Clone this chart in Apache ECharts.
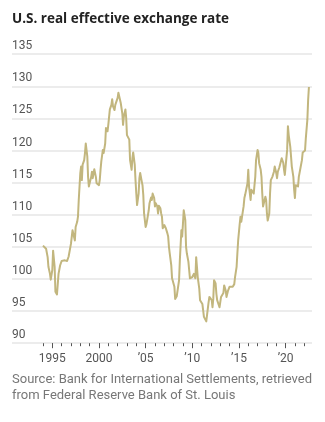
<!DOCTYPE html>
<html>
<head>
<meta charset="utf-8">
<script src="https://cdn.jsdelivr.net/npm/echarts@6/dist/echarts.min.js"></script>
<style>
  html, body { margin: 0; padding: 0; background: #ffffff; }
  #chart { width: 325px; height: 422px; }
</style>
</head>
<body>
<div id="chart"></div>
<script>
// U.S. real effective exchange rate, monthly readings (index)
const months = [
  '1994-01','1994-03','1994-05','1994-07','1994-08','1994-10','1994-11',
  '1995-01','1995-02','1995-04','1995-05','1995-07','1995-08','1995-09','1995-11',
  '1996-01','1996-03','1996-05','1996-07','1996-08','1996-10','1996-12',
  '1997-01','1997-03','1997-04','1997-06','1997-07','1997-09','1997-10','1997-11',
  '1998-01','1998-02','1998-03','1998-04','1998-06','1998-07','1998-08','1998-10','1998-11','1998-12',
  '1999-01','1999-03','1999-04','1999-05','1999-07','1999-09','1999-10',
  '2000-01','2000-02','2000-03','2000-04','2000-06','2000-07','2000-09','2000-10','2000-12',
  '2001-01','2001-03','2001-05','2001-06','2001-07','2001-09','2001-10','2001-12',
  '2002-01','2002-02','2002-04','2002-05','2002-07','2002-08','2002-09','2002-11','2002-12',
  '2003-01','2003-03','2003-04','2003-05','2003-07','2003-08','2003-09','2003-11','2003-12',
  '2004-01','2004-02','2004-04','2004-05','2004-06','2004-08','2004-09','2004-10','2004-11',
  '2005-01','2005-02','2005-03','2005-05','2005-06','2005-08','2005-09','2005-10','2005-12',
  '2006-01','2006-02','2006-04','2006-05','2006-06','2006-08','2006-09','2006-10','2006-11',
  '2007-01','2007-02','2007-03','2007-05','2007-06','2007-07','2007-08','2007-10','2007-11','2007-12',
  '2008-02','2008-03','2008-04','2008-05','2008-07','2008-08','2008-09','2008-11','2008-12',
  '2009-01','2009-02','2009-04','2009-05','2009-06','2009-08','2009-09','2009-10','2009-11',
  '2010-01','2010-02','2010-03','2010-05','2010-06','2010-07','2010-08','2010-10','2010-11','2010-12',
  '2011-02','2011-03','2011-04','2011-05','2011-07','2011-08','2011-10','2011-11','2011-12',
  '2012-02','2012-03','2012-04','2012-05','2012-07','2012-08','2012-09','2012-11','2012-12',
  '2013-01','2013-02','2013-04','2013-05','2013-06','2013-08','2013-09','2013-10','2013-11',
  '2014-01','2014-02','2014-03','2014-05','2014-06','2014-07','2014-08','2014-10','2014-11','2014-12',
  '2015-02','2015-03','2015-04','2015-05','2015-07','2015-08','2015-09','2015-11','2015-12',
  '2016-01','2016-02','2016-04','2016-05','2016-06','2016-08','2016-09','2016-10','2016-11',
  '2017-01','2017-02','2017-03','2017-05','2017-06','2017-07','2017-08','2017-11','2017-12',
  '2018-01','2018-02','2018-04','2018-05','2018-06','2018-08','2018-09','2018-10','2018-11',
  '2019-01','2019-02','2019-03','2019-05','2019-06','2019-07','2019-08','2019-10','2019-11','2019-12',
  '2020-02','2020-03','2020-04','2020-05','2020-07','2020-08','2020-09','2020-11','2020-12',
  '2021-01','2021-02','2021-04','2021-05','2021-06','2021-08','2021-09','2021-10','2021-11',
  '2022-01','2022-02','2022-03','2022-05','2022-06','2022-07'
];

const rate = [
  105.2,105.0,104.7,103.4,101.9,100.8,99.9,
  101.4,104.4,101.9,98.0,97.6,97.7,100.8,102.1,
  102.8,103.0,102.9,103.2,102.8,103.5,103.3,
  105.5,107.6,107.3,106.0,108.1,108.9,109.7,112.3,
  116.5,117.5,115.4,117.8,118.5,119.6,121.1,119.1,115.9,114.4,
  114.4,115.9,116.7,115.7,117.1,115.9,114.9,
  114.6,115.4,117.0,118.3,120.1,119.6,121.1,123.5,123.0,
  124.0,126.4,127.1,128.0,126.9,126.3,127.1,127.4,
  128.2,129.0,128.7,127.4,125.8,124.0,125.3,126.4,125.1,
  122.4,122.4,121.7,118.5,117.0,118.8,119.7,117.8,115.4,
  113.3,111.5,113.3,115.7,116.5,115.2,114.6,113.1,110.2,
  108.1,108.5,109.2,110.7,111.8,112.7,112.3,113.3,112.6,
  111.3,111.8,111.3,110.2,111.4,111.0,110.2,109.7,107.9,
  108.4,108.4,107.9,107.1,106.6,105.0,104.0,102.1,100.1,99.9,
  98.8,96.9,96.7,97.3,97.4,99.8,102.9,107.6,106.6,
  108.6,110.7,109.2,105.0,104.0,102.7,101.4,100.1,99.9,
  100.3,100.1,100.8,100.1,103.4,101.9,100.3,98.5,96.7,96.8,
  96.1,95.1,94.1,93.8,93.4,93.4,96.4,97.2,97.3,
  96.7,95.6,96.9,99.8,99.3,97.7,96.7,96.4,95.6,
  96.4,97.2,97.2,97.8,99.0,98.2,97.2,97.4,98.2,
  98.8,98.9,98.9,98.8,98.9,99.2,100.3,101.9,104.0,106.0,
  108.6,109.7,108.9,109.7,111.3,112.6,113.1,112.8,114.9,
  117.0,114.4,112.3,113.9,114.1,113.3,114.6,115.9,118.5,
  120.1,119.6,118.0,117.0,115.9,113.3,111.3,112.8,112.3,
  110.2,109.1,110.2,113.3,115.4,115.9,116.2,116.7,117.5,
  116.5,115.7,116.7,117.4,117.6,117.1,118.8,118.1,117.0,116.2,
  116.2,120.1,123.8,122.4,120.6,119.1,117.5,115.9,113.9,
  112.6,114.6,114.9,114.4,115.9,117.2,117.4,118.5,119.7,
  120.0,120.0,121.9,124.8,127.9,129.9
];

const yTicks = [90, 95, 100, 105, 110, 115, 120, 125, 130, 135];
const yearTicks = [1994,1995,1996,1997,1998,1999,2000,2001,2002,2003,2004,2005,2006,2007,
  2008,2009,2010,2011,2012,2013,2014,2015,2016,2017,2018,2019,2020,2021,2022];
const labelYears = [1995, 2000, 2005, 2010, 2015, 2020];
const yearLabels = ['1995', '2000', '\u201905', '\u201910', '\u201915', '\u201920'];

const titleText = 'U.S. real effective exchange rate';
const sourceLines = [
  'Source: Bank for International Settlements, retrieved',
  'from Federal Reserve Bank of St. Louis'
];

const FONT = 'Roboto, "Noto Sans", sans-serif';
const TITLE_FONT = '"Open Sans", Roboto, sans-serif';
const LINE_COLOR = '#c2b67e';

function toYear(m) {
  const [y, mo] = m.split('-').map(Number);
  return y + (mo - 1) / 12;
}

const points = months.map((m, i) => [toYear(m), rate[i]]);

const X_MIN = 1990.68, X_MAX = 2022.83;

const chart = echarts.init(document.getElementById('chart'), null, { renderer: 'canvas' });

chart.setOption({
  animation: false,
  backgroundColor: '#ffffff',
  grid: { left: 12, right: 13, top: 54.2, bottom: 78.8, containLabel: false },
  xAxis: [
    {
      type: 'value', min: X_MIN, max: X_MAX,
      axisLine: { show: false },
      splitLine: { show: false },
      axisTick: { show: true, customValues: yearTicks, length: 3, lineStyle: { color: '#555', width: 1 } },
      axisLabel: { show: false }
    },
    {
      type: 'value', min: X_MIN, max: X_MAX, position: 'bottom',
      axisLine: { show: false },
      splitLine: { show: false },
      axisTick: { show: true, customValues: labelYears, length: 5, lineStyle: { color: '#555', width: 1 } },
      axisLabel: {
        show: true, customValues: labelYears, margin: 10,
        color: '#555', fontSize: 12, fontFamily: FONT,
        formatter: v => yearLabels[labelYears.indexOf(Math.round(v))]
      }
    }
  ],
  yAxis: {
    type: 'value', min: yTicks[0], max: yTicks[yTicks.length - 1], interval: 5,
    axisLine: { show: false },
    axisTick: { show: false },
    splitLine: { show: true, lineStyle: { color: '#ececec', width: 2 } },
    axisLabel: {
      inside: true, margin: 0, align: 'left', verticalAlign: 'bottom',
      padding: [0, 0, 2, 0],
      color: '#555', fontSize: 12, fontFamily: FONT
    }
  },
  series: [{
    type: 'line',
    xAxisIndex: 0,
    data: points,
    showSymbol: false,
    lineStyle: { color: LINE_COLOR, width: 2, join: 'round' },
    z: 3
  }],
  graphic: [
    {
      type: 'text', x: 12, y: 19,
      style: {
        text: titleText, fill: '#222', fontSize: 13.5, fontWeight: 'bold',
        fontFamily: TITLE_FONT, verticalAlign: 'middle'
      }
    },
    {
      type: 'text', left: 12, top: 372,
      style: {
        text: sourceLines.join('\n'), fill: '#777', fontSize: 13, lineHeight: 16, fontFamily: FONT
      }
    }
  ]
});
</script>
</body>
</html>
